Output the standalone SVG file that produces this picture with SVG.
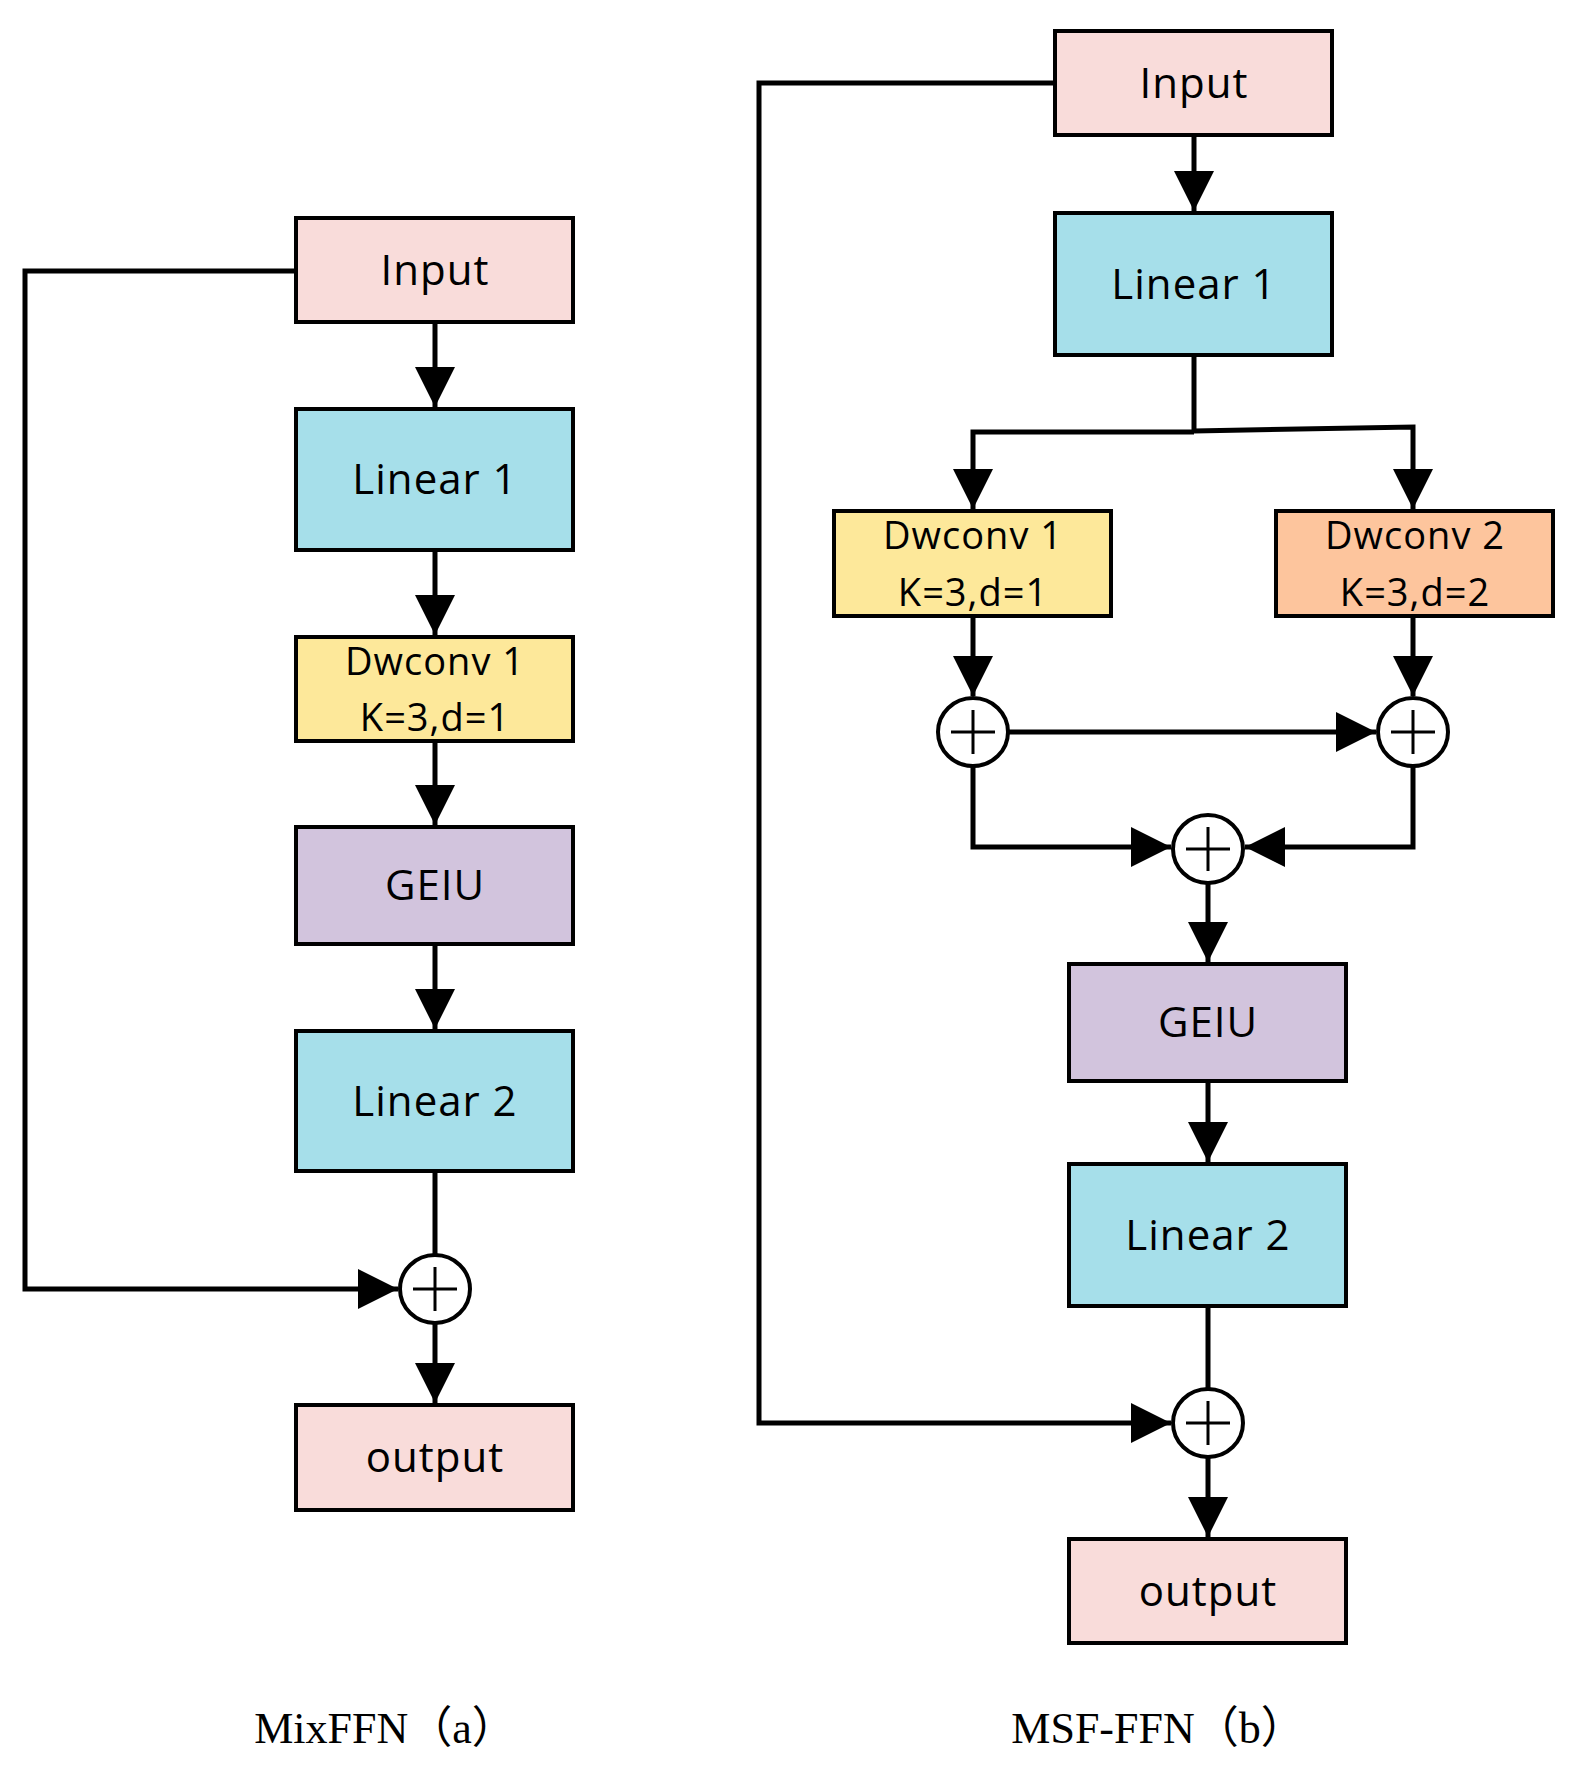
<svg xmlns="http://www.w3.org/2000/svg" width="1572" height="1771" viewBox="0 0 1572 1771">
<style>
.b{stroke:#000;stroke-width:4}
.t{font-family:"Open Sans","Liberation Sans",sans-serif;font-size:42px;text-anchor:middle;fill:#000;letter-spacing:1px}
.s{font-size:38px}
.c{fill:#fff;stroke:#000;stroke-width:4}
.l{fill:none;stroke:#000;stroke-width:5}
.cap{font-family:"Liberation Serif","Noto Sans CJK SC",serif;font-size:44px;text-anchor:middle}
</style>
<defs>
<marker id="a" markerUnits="userSpaceOnUse" markerWidth="42" markerHeight="40" refX="40" refY="20" orient="auto"><path d="M0,0 L40,20 L0,40 Z" fill="#000"/></marker>
<g id="plus"><line x1="-22" y1="0" x2="22" y2="0" stroke="#000" stroke-width="3"/><line x1="0" y1="-22" x2="0" y2="22" stroke="#000" stroke-width="3"/></g>
</defs>
<g id="connectors">
<path class="l" d="M435,322 V407" marker-end="url(#a)"/>
<path class="l" d="M435,550 V635" marker-end="url(#a)"/>
<path class="l" d="M435,741 V825" marker-end="url(#a)"/>
<path class="l" d="M435,944 V1029" marker-end="url(#a)"/>
<path class="l" d="M435,1171 V1255"/>
<path class="l" d="M435,1323 V1403" marker-end="url(#a)"/>
<path class="l" d="M296,271 H25 V1289 H398" marker-end="url(#a)"/>
<path class="l" d="M1194,135 V211" marker-end="url(#a)"/>
<path class="l" d="M1194,355 V431"/>
<path class="l" d="M1194,432 H973 V509" marker-end="url(#a)"/>
<path class="l" d="M1194,431 L1413,427 V509" marker-end="url(#a)"/>
<path class="l" d="M973,616 V696" marker-end="url(#a)"/>
<path class="l" d="M1413,616 V696" marker-end="url(#a)"/>
<path class="l" d="M1008,732 H1376" marker-end="url(#a)"/>
<path class="l" d="M973,766 V847 H1171" marker-end="url(#a)"/>
<path class="l" d="M1413,766 V847 H1245" marker-end="url(#a)"/>
<path class="l" d="M1208,883 V962" marker-end="url(#a)"/>
<path class="l" d="M1208,1081 V1162" marker-end="url(#a)"/>
<path class="l" d="M1208,1306 V1389"/>
<path class="l" d="M1208,1457 V1537" marker-end="url(#a)"/>
<path class="l" d="M1055,83 H759 V1423 H1171" marker-end="url(#a)"/>
</g>
<g id="a-input"><rect class="b" x="296" y="218" width="277" height="104" fill="#f9dcda"/><text class="t" x="435" y="285">Input</text></g>
<g id="a-linear1"><rect class="b" x="296" y="409" width="277" height="141" fill="#a6dfea"/><text class="t" x="435" y="494">Linear 1</text></g>
<g id="a-dwconv1"><rect class="b" x="296" y="637" width="277" height="104" fill="#fde89a"/><text class="t s" x="435" y="675">Dwconv 1</text><text class="t s" x="435" y="731">K=3,d=1</text></g>
<g id="a-geiu"><rect class="b" x="296" y="827" width="277" height="117" fill="#d2c4dd"/><text class="t" x="435" y="900">GEIU</text></g>
<g id="a-linear2"><rect class="b" x="296" y="1031" width="277" height="140" fill="#a6dfea"/><text class="t" x="435" y="1116">Linear 2</text></g>
<g id="a-sum"><ellipse class="c" cx="435" cy="1289" rx="35" ry="34"/><use href="#plus" x="435" y="1289"/></g>
<g id="a-output"><rect class="b" x="296" y="1405" width="277" height="105" fill="#f9dcda"/><text class="t" x="435" y="1472">output</text></g>
<g id="b-input"><rect class="b" x="1055" y="31" width="277" height="104" fill="#f9dcda"/><text class="t" x="1194" y="98">Input</text></g>
<g id="b-linear1"><rect class="b" x="1055" y="213" width="277" height="142" fill="#a6dfea"/><text class="t" x="1194" y="299">Linear 1</text></g>
<g id="b-dwconv1"><rect class="b" x="834" y="511" width="277" height="105" fill="#fde89a"/><text class="t s" x="973" y="549">Dwconv 1</text><text class="t s" x="973" y="606">K=3,d=1</text></g>
<g id="b-dwconv2"><rect class="b" x="1276" y="511" width="277" height="105" fill="#fdc59d"/><text class="t s" x="1415" y="549">Dwconv 2</text><text class="t s" x="1415" y="606">K=3,d=2</text></g>
<g id="b-sum1"><ellipse class="c" cx="973" cy="732" rx="35" ry="34"/><use href="#plus" x="973" y="732"/></g>
<g id="b-sum2"><ellipse class="c" cx="1413" cy="732" rx="35" ry="34"/><use href="#plus" x="1413" y="732"/></g>
<g id="b-sum3"><ellipse class="c" cx="1208" cy="849" rx="35" ry="34"/><use href="#plus" x="1208" y="849"/></g>
<g id="b-geiu"><rect class="b" x="1069" y="964" width="277" height="117" fill="#d2c4dd"/><text class="t" x="1208" y="1037">GEIU</text></g>
<g id="b-linear2"><rect class="b" x="1069" y="1164" width="277" height="142" fill="#a6dfea"/><text class="t" x="1208" y="1250">Linear 2</text></g>
<g id="b-sum4"><ellipse class="c" cx="1208" cy="1423" rx="35" ry="34"/><use href="#plus" x="1208" y="1423"/></g>
<g id="b-output"><rect class="b" x="1069" y="1539" width="277" height="104" fill="#f9dcda"/><text class="t" x="1208" y="1606">output</text></g>
<text class="cap" x="385" y="1743">MixFFN（a）</text>
<text class="cap" x="1158" y="1743">MSF-FFN（b）</text>
</svg>
